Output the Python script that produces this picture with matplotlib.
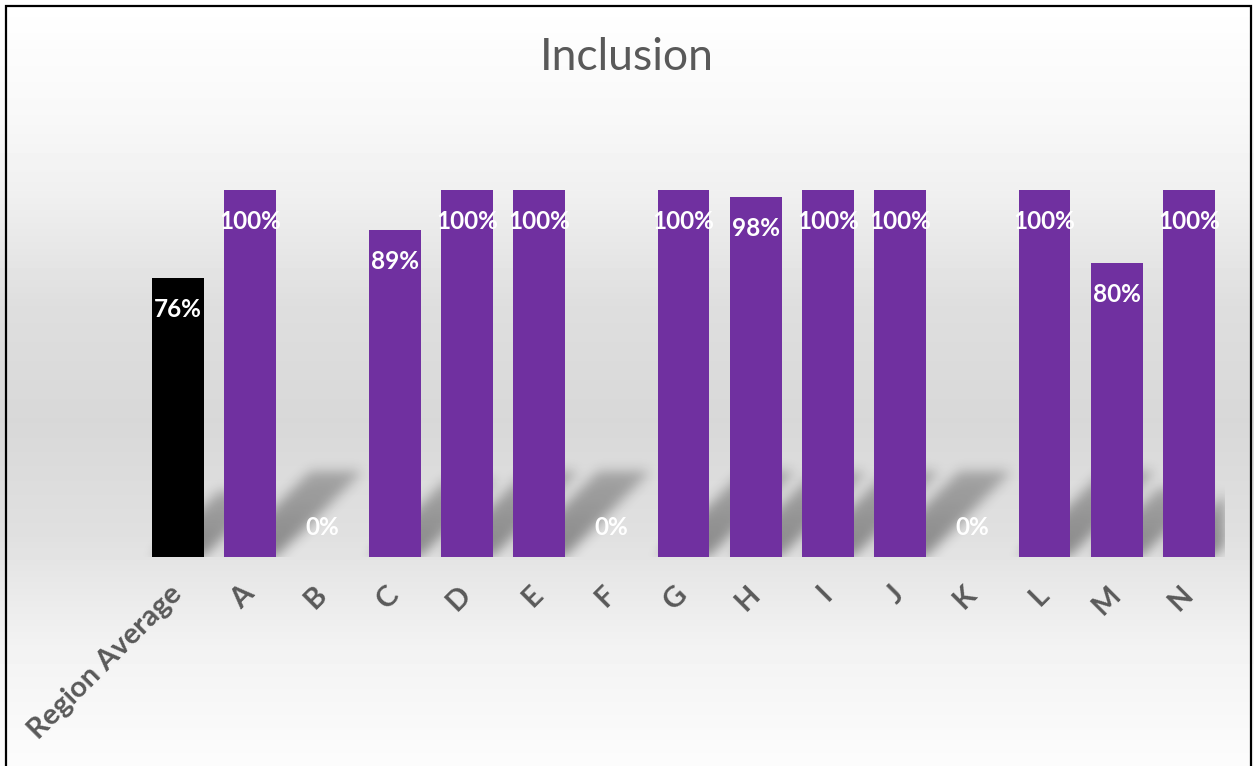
import numpy as np
import matplotlib
matplotlib.use("Agg")
import matplotlib.pyplot as plt
from matplotlib.patches import Rectangle

# Dados
categorias = ["Region Average", "A", "B", "C", "D", "E", "F", "G", "H", "I", "J", "K", "L", "M", "N"]
valores = [0.76, 1.00, 0.00, 0.89, 1.00, 1.00, 0.00, 1.00, 0.98, 1.00, 1.00, 0.00, 1.00, 0.80, 1.00]
cores = ["#000000"] + ["#7030A0"] * (len(categorias) - 1)

plt.rcParams["font.family"] = ["Lato", "DejaVu Sans"]
CINZA_TXT = "#595959"

fig = plt.figure(figsize=(12.54, 7.66), dpi=100)

# Fundo com gradiente vertical (branco -> cinza -> branco)
ax_bg = fig.add_axes([0, 0, 1, 1], zorder=-1)
pos = np.array([0.0, 0.15, 0.25, 0.40, 0.55, 0.70, 0.76, 0.85, 1.0])
tons = np.array([255, 248, 240, 222, 216, 224, 232, 243, 252]) / 255
yy = np.linspace(0, 1, 766)
grad = np.interp(yy, pos, tons)
ax_bg.imshow(np.repeat(grad[:, None], 4, axis=1), cmap="gray", vmin=0, vmax=1,
             aspect="auto", extent=[0, 1, 1, 0])
ax_bg.set_axis_off()

# Moldura
fig.patches.append(Rectangle((6 / 1254, -0.01), 1245 / 1254, 0.01 + 760 / 766,
                             transform=fig.transFigure, fill=False,
                             edgecolor="black", linewidth=1.6, zorder=5))

ax = fig.add_axes([142 / 1254, 209 / 766, 1083 / 1254, 1.2 * 367 / 766])
ax.set_facecolor("none")

x = np.arange(len(categorias))
larg = 0.72

# Sombra projetada das barras (paralelogramo inclinado + desfoque)
K = 0.235     # altura relativa da sombra
SKEW = 5.08   # deslocamento horizontal por unidade de altura
x0, x1, y0, y1 = -0.5, len(categorias) - 0.5, -0.05, 0.32
nx, ny = 1083, 136
gx, gy = np.meshgrid(np.linspace(x0, x1, nx), np.linspace(y0, y1, ny))
alpha = np.zeros_like(gx)
for i, v in enumerate(valores):
    if v <= 0:
        continue
    h = K * v
    dentro = (gy >= 0) & (gy <= h)
    xs = gx - gy * SKEW
    dentro &= (xs >= i - larg / 2) & (xs <= i + larg / 2)
    intens = 0.40 - 0.14 * (gy / h)
    alpha = np.where(dentro, np.maximum(alpha, intens), alpha)


def desfoque(a, sigma):
    r = int(3 * sigma)
    t = np.arange(-r, r + 1)
    kern = np.exp(-t ** 2 / (2 * sigma ** 2))
    kern /= kern.sum()
    a = np.apply_along_axis(lambda m: np.convolve(m, kern, mode="same"), 0, a)
    a = np.apply_along_axis(lambda m: np.convolve(m, kern, mode="same"), 1, a)
    return a


alpha = desfoque(alpha, 6)
sombra = np.zeros((ny, nx, 4))
sombra[..., 3] = alpha
ax.imshow(sombra, extent=[x0, x1, y0, y1], origin="lower", aspect="auto",
          interpolation="bilinear", zorder=1)

ax.bar(x, valores, width=larg, color=cores, zorder=2)

# Rótulos de dados
for xi, v in zip(x, valores):
    desloc = -22.5 if v > 0 else 21
    ax.annotate(f"{v:.0%}", (xi, v), xytext=(0, desloc), textcoords="offset points",
                ha="center", va="center", color="white", fontsize=17.5,
                fontweight="bold", zorder=3)

ax.set_xlim(x0, x1)
ax.set_ylim(0, 1.2)
ax.set_xticks(x)
ax.set_xticklabels(categorias, rotation=45, ha="right", va="center",
                   rotation_mode="anchor", fontsize=21, fontweight="bold",
                   color=CINZA_TXT)
ax.tick_params(axis="x", length=0, pad=24)
ax.set_yticks([])
for s in ax.spines.values():
    s.set_visible(False)

fig.text(0.5, 1 - 57 / 766, "Inclusion", ha="center", va="center",
         fontsize=32, color=CINZA_TXT)

fig.savefig("out.png", dpi=100)
